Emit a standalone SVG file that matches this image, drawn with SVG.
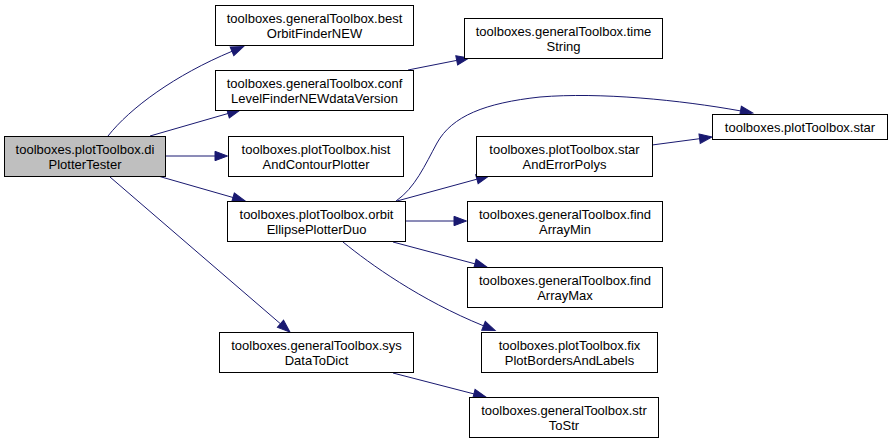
<svg xmlns="http://www.w3.org/2000/svg" width="893" height="443" viewBox="0 0 893 443">
<style>
.n rect{fill:#ffffff;stroke:#000000;stroke-width:1}
.n.root rect{fill:#bfbfbf}
.n text{font-family:"Liberation Sans",Arial,sans-serif;font-size:13px;fill:#000000;text-anchor:middle}
.e path{fill:none;stroke:#191970;stroke-width:1;marker-end:url(#ah)}
</style>
<defs>
<marker id="ah" markerUnits="userSpaceOnUse" markerWidth="15" markerHeight="12" refX="0" refY="5" orient="auto" overflow="visible">
<path d="M0,0.3 L12.5,5 L0,9.7 z" fill="#191970" stroke="#191970" stroke-width="1"/>
</marker>
</defs>
<rect width="893" height="443" fill="#ffffff"/>
<g id="edges" class="e">
<path d="M108,136 C130,108 175,75 232,51.3"/>
<path d="M150,136 L228,113.5"/>
<path d="M166,156 L215,156"/>
<path d="M158,176 L233,197.5"/>
<path d="M110,177 L280.5,323.8"/>
<path d="M408,70 L456.7,60.4"/>
<path d="M396,201 C415,188 425,165 437,143 C452,116 485,103 540,97 C600,92 680,100 740.5,110.9"/>
<path d="M397,201 L476.9,179.2"/>
<path d="M652,145 L699.6,138.7"/>
<path d="M406,221 L454,221"/>
<path d="M393,242 L474.9,263.8"/>
<path d="M343,242 C370,264 420,300 483.5,325.8"/>
<path d="M393,373 L473.9,393.9"/>
</g>
<g id="node-diPlotterTester" class="n root">
<rect x="4.5" y="136.5" width="161" height="40"/>
<text x="85" y="153.5">toolboxes.plotToolbox.di</text>
<text x="85" y="168.5">PlotterTester</text>
</g>
<g id="node-bestOrbitFinderNEW" class="n">
<rect x="215.5" y="5.5" width="198" height="40"/>
<text x="314.5" y="22.5">toolboxes.generalToolbox.best</text>
<text x="314.5" y="37.5">OrbitFinderNEW</text>
</g>
<g id="node-confLevelFinderNEWdataVersion" class="n">
<rect x="215.5" y="70.5" width="198" height="40"/>
<text x="314.5" y="87.5">toolboxes.generalToolbox.conf</text>
<text x="314.5" y="102.5">LevelFinderNEWdataVersion</text>
</g>
<g id="node-histAndContourPlotter" class="n">
<rect x="228.5" y="136.5" width="175" height="40"/>
<text x="316" y="153.5">toolboxes.plotToolbox.hist</text>
<text x="316" y="168.5">AndContourPlotter</text>
</g>
<g id="node-orbitEllipsePlotterDuo" class="n">
<rect x="227.5" y="201.5" width="178" height="40"/>
<text x="316.5" y="218.5">toolboxes.plotToolbox.orbit</text>
<text x="316.5" y="233.5">EllipsePlotterDuo</text>
</g>
<g id="node-sysDataToDict" class="n">
<rect x="219.5" y="332.5" width="194" height="40"/>
<text x="316.5" y="349.5">toolboxes.generalToolbox.sys</text>
<text x="316.5" y="364.5">DataToDict</text>
</g>
<g id="node-timeString" class="n">
<rect x="464.5" y="18.5" width="198" height="40"/>
<text x="563.5" y="35.5">toolboxes.generalToolbox.time</text>
<text x="563.5" y="50.5">String</text>
</g>
<g id="node-starAndErrorPolys" class="n">
<rect x="476.5" y="136.5" width="176" height="40"/>
<text x="564.5" y="153.5">toolboxes.plotToolbox.star</text>
<text x="564.5" y="168.5">AndErrorPolys</text>
</g>
<g id="node-findArrayMin" class="n">
<rect x="467.5" y="201.5" width="195" height="40"/>
<text x="565" y="218.5">toolboxes.generalToolbox.find</text>
<text x="565" y="233.5">ArrayMin</text>
</g>
<g id="node-findArrayMax" class="n">
<rect x="467.5" y="267.5" width="195" height="40"/>
<text x="565" y="284.5">toolboxes.generalToolbox.find</text>
<text x="565" y="299.5">ArrayMax</text>
</g>
<g id="node-fixPlotBordersAndLabels" class="n">
<rect x="481.5" y="332.5" width="176" height="40"/>
<text x="569.5" y="349.5">toolboxes.plotToolbox.fix</text>
<text x="569.5" y="364.5">PlotBordersAndLabels</text>
</g>
<g id="node-strToStr" class="n">
<rect x="469.5" y="397.5" width="189" height="40"/>
<text x="564" y="414.5">toolboxes.generalToolbox.str</text>
<text x="564" y="429.5">ToStr</text>
</g>
<g id="node-star" class="n">
<rect x="712.5" y="114.5" width="175" height="25"/>
<text x="800" y="131.5">toolboxes.plotToolbox.star</text>
</g>
</svg>
